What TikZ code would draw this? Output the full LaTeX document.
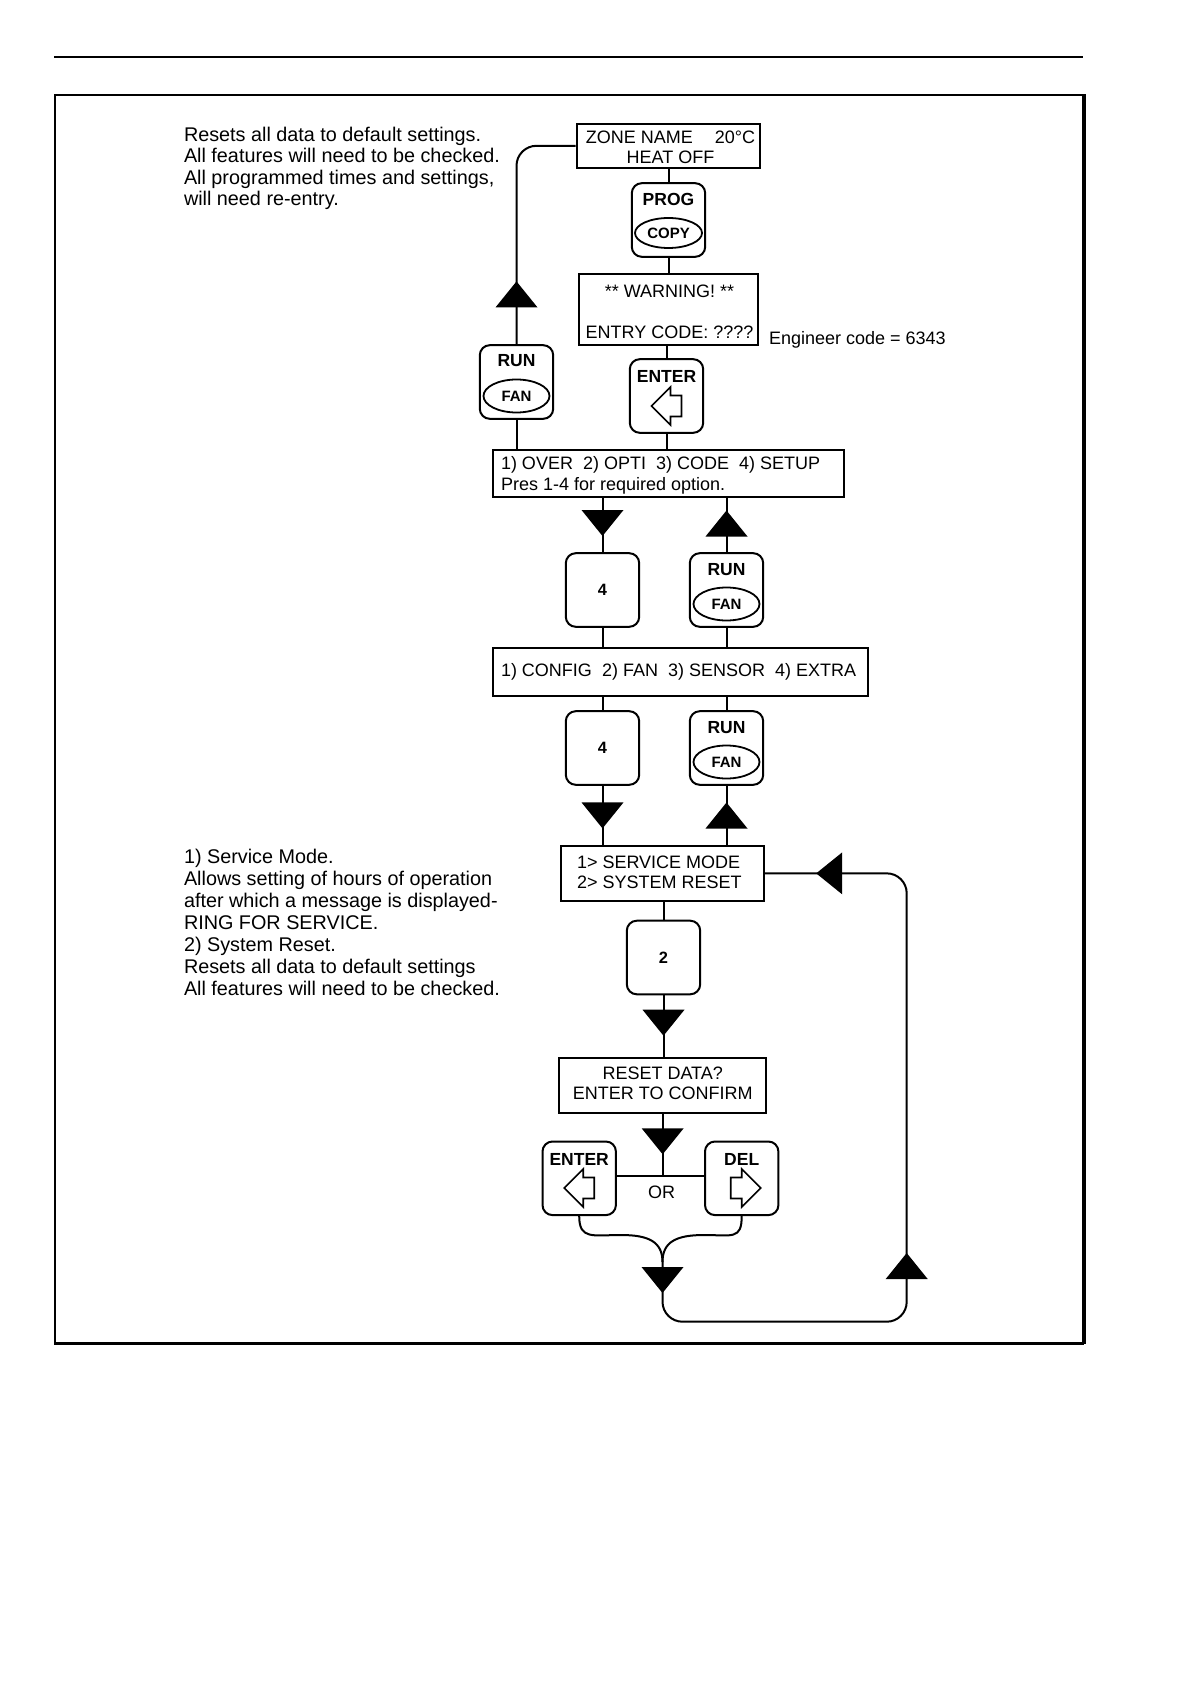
\documentclass[tikz,border=0pt]{standalone}
\usepackage{fontspec}
\setmainfont{Liberation Sans}
\usetikzlibrary{shapes.geometric,calc}
\begin{document}
\begin{tikzpicture}[x=0.5pt,y=-0.5pt,
  line width=1pt,
  box/.style={draw,rectangle,inner sep=0pt},
  keybox/.style={draw,rounded corners=5pt,inner sep=0pt,minimum width=36.7pt,minimum height=36.8pt},
  keyell/.style={draw,ellipse,inner sep=0pt,line width=0.9pt,minimum width=33pt,minimum height=16.5pt,font=\bfseries\fontsize{7.5}{9}\selectfont},
  keylbl/.style={anchor=base,inner sep=0pt,font=\bfseries\fontsize{8.75}{10}\selectfont},
  keynum/.style={inner sep=0pt,font=\bfseries\fontsize{8.2}{9}\selectfont},
  disp/.style={inner sep=0pt,font=\fontsize{9}{10}\selectfont},
  note/.style={anchor=base west,align=left,inner sep=0pt,font=\fontsize{9.9}{10.8}\selectfont},
  tridown/.pic={\fill (-21,-13) -- (21,-13) -- (0,13) -- cycle;},
  triup/.pic={\fill (-21,13) -- (21,13) -- (0,-13) -- cycle;},
  trileft/.pic={\fill (13,-21) -- (13,21) -- (-13,0) -- cycle;},
  arrleft/.pic={\draw[line width=0.8pt,line join=miter,fill=white] (-15,0) -- (4,-19) -- (4,-10.5) -- (15,-10.5) -- (15,10.5) -- (4,10.5) -- (4,19) -- cycle;},
  arrright/.pic={\draw[line width=0.8pt,line join=miter,fill=white] (15,0) -- (-4,-19) -- (-4,-10.5) -- (-15,-10.5) -- (-15,10.5) -- (-4,10.5) -- (-4,19) -- cycle;}
]
\useasboundingbox (0,0) rectangle (1190,1684);
% page rule and frame
\draw[line width=1.1pt] (54,56.7) -- (1083.3,56.7);
\draw[line width=1.1pt] (1084,95) -- (55,95) -- (55,1343.5) -- (1084,1343.5);
\draw[line width=1.6pt] (1084,94.5) -- (1084,1344);

% notes (anchor = baseline of the last line)
\node[note] (note1) at (183,206) {Resets all data to default settings.\\All features will need to be checked.\\All programmed times and settings,\\will need re-entry.};
\node[note,font=\fontsize{9.9}{10.95}\selectfont] (note2) at (183,995) {1) Service Mode.\\Allows setting of hours of operation\\after which a message is displayed-\\RING FOR SERVICE.\\2) System Reset.\\Resets all data to default settings\\All features will need to be checked.};

% top display
\node[box,minimum width=91.65pt,minimum height=21.85pt] (zone) at (668.3,145.8) {};
\node[disp,anchor=base,align=center] (zonetxt) at (670.5,163.7) {ZONE NAME\hspace{11pt}20°C\\HEAT OFF};

\node[keybox] (prog) at (668.5,220) {};
\node[keylbl] (progtxt) at ($(prog)+(0,-14.5)$) {PROG};
\node[keyell,minimum width=33.5pt,minimum height=15pt] (copy) at ($(prog)+(0,13)$) {COPY};

\node[box,minimum width=89.5pt,minimum height=35.5pt] (warn) at (668.5,309.5) {};
\node[disp,anchor=base,align=center] (warntxt) at (669.5,338.2) {** WARNING! **\\[10.5pt]ENTRY CODE: ????};
\node[disp,anchor=base west,font=\fontsize{9}{10}\selectfont] (eng) at (768,345) {Engineer code = 6343};

\node[keybox] (run1) at (516.5,382) {};
\node[keylbl] (run1txt) at ($(run1)+(0,-15)$) {RUN};
\node[keyell] (fan1) at ($(run1)+(0,14)$) {FAN};

\node[keybox] (enter1) at (666.5,396) {};
\node[keylbl] (enter1txt) at ($(enter1)+(0,-13)$) {ENTER};
\pic at ($(enter1)+(0,10)$) {arrleft};

% menu 1
\node[box,minimum width=175.65pt,minimum height=23.35pt] (menu1) at (668.35,473.35) {};
\node[disp,anchor=base west,align=left,font=\fontsize{9}{10.5}\selectfont] (menu1txt) at (500,490.5) {1) OVER\ \ 2) OPTI\ \ 3) CODE\ \ 4) SETUP\\Pres 1-4 for required option.};

% row 1
\node[keybox] (k4a) at (602.5,590) {};
\node[keynum] (k4atxt) at (k4a) {4};
\node[keybox] (run2) at (726.5,590) {};
\node[keylbl] (run2txt) at ($(run2)+(0,-14.7)$) {RUN};
\node[keyell] (fan2) at ($(run2)+(0,14)$) {FAN};

% menu 2
\node[box,minimum width=187.8pt,minimum height=23.7pt] (menu2) at (680.5,672) {};
\node[disp,anchor=base west] (menu2txt) at (500,676.5) {1) CONFIG\ \ 2) FAN\ \ 3) SENSOR\ \ 4) EXTRA};

% row 2
\node[keybox] (k4b) at (602.5,748) {};
\node[keynum] (k4btxt) at (k4b) {4};
\node[keybox] (run3) at (726.5,748) {};
\node[keylbl] (run3txt) at ($(run3)+(0,-14.7)$) {RUN};
\node[keyell] (fan3) at ($(run3)+(0,14)$) {FAN};

% service menu
\node[box,minimum width=101.5pt,minimum height=27.65pt] (serv) at (662.5,873.35) {};
\node[disp,anchor=base west,align=left] (servtxt) at (576,888) {1> SERVICE MODE\\2> SYSTEM RESET};

\node[keybox] (k2) at (663.5,957.5) {};
\node[keynum] (k2txt) at (k2) {2};

\node[box,minimum width=103.35pt,minimum height=27.8pt] (reset) at (662.65,1085.5) {};
\node[disp,anchor=base,align=center] (resettxt) at (662.7,1099.5) {RESET DATA?\\ENTER TO CONFIRM};

\node[keybox] (enter2) at (579.2,1178.3) {};
\node[keylbl] (enter2txt) at ($(enter2)+(0,-12.5)$) {ENTER};
\pic at ($(enter2)+(0,9.7)$) {arrleft};

\node[keybox] (del) at (741.7,1178.3) {};
\node[keylbl] (deltxt) at ($(del)+(0,-12.5)$) {DEL};
\pic at ($(del)+(4,9.7)$) {arrright};

\node[disp,anchor=base] (or) at (661.7,1198) {OR};

% connectors
\draw[rounded corners=10pt] (zone.west) -| (run1.north);
\draw (run1.south) -- (run1.south |- menu1.north);
\draw (prog.north |- zone.south) -- (prog.north);
\draw (prog.south) -- (prog.south |- warn.north);
\draw (enter1.north |- warn.south) -- (enter1.north);
\draw (enter1.south) -- (enter1.south |- menu1.north);

\draw (k4a.north |- menu1.south) -- (k4a.north);
\draw (run2.north) -- (run2.north |- menu1.south);
\draw (k4a.south) -- (k4a.south |- menu2.north);
\draw (run2.south) -- (run2.south |- menu2.north);
\draw (k4b.north |- menu2.south) -- (k4b.north);
\draw (run3.north) -- (run3.north |- menu2.south);
\draw (k4b.south) -- (k4b.south |- serv.north);
\draw (run3.south) -- (run3.south |- serv.north);

\draw (k2.north |- serv.south) -- (k2.north);
\draw (k2.south) -- (k2.south |- reset.north);

\coordinate (jn) at (663,1176);
\draw (reset.south) -- (reset.south |- jn);
\draw (enter2.east |- jn) -- (del.west |- jn);

\coordinate (mg) at (662.5,1262);
\coordinate (cl) at (621,1235);
\coordinate (cr) at (704,1235);
\draw (enter2.south) .. controls +(0,24) and +(-28,0) .. (cl) .. controls +(28,0) and +(0,-20) .. (mg);
\draw (del.south) .. controls +(0,24) and +(28,0) .. (cr) .. controls +(-28,0) and +(0,-20) .. (mg);

\coordinate (br) at (906.7,1321.7);
\draw[rounded corners=10pt] (mg) |- (br) |- (serv.east);

% flow triangles
\pic at (516.5,294.4) {triup};
\pic at (602.5,523) {tridown};
\pic at (726.5,523.5) {triup};
\pic at (602.5,815.4) {tridown};
\pic at (726.5,815.5) {triup};
\pic at (829.2,873.35) {trileft};
\pic at (663.5,1022.7) {tridown};
\pic at (662.65,1141.3) {tridown};
\pic at (662.5,1280) {tridown};
\pic at (906.7,1266) {triup};
\end{tikzpicture}
\end{document}
